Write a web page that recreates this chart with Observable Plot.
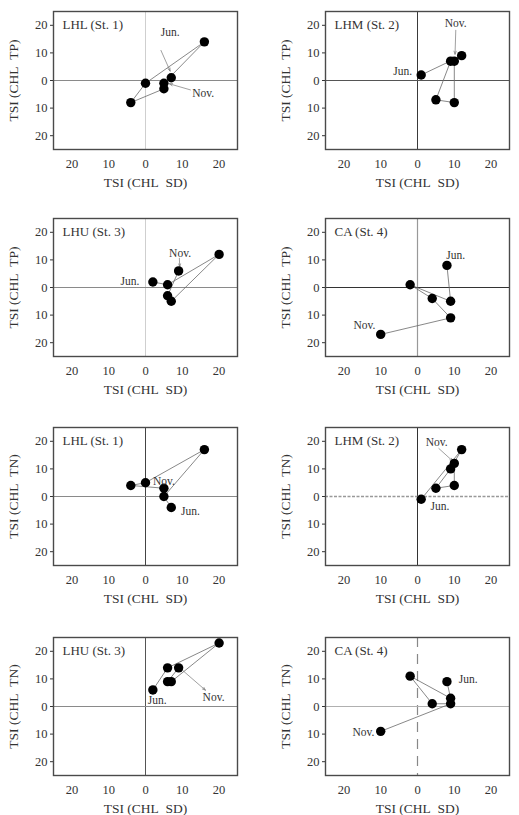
<!DOCTYPE html>
<html>
<head>
<meta charset="utf-8">
<script src="https://cdn.jsdelivr.net/npm/d3@7"></script>
<script src="https://cdn.jsdelivr.net/npm/@observablehq/plot@0.6"></script>
<style>
  html, body { margin: 0; padding: 0; background: #fff; }
  #grid { position: relative; width: 519px; height: 815px; overflow: hidden; background: #fff; }
  #grid > div { position: absolute; }
</style>
</head>
<body>
<div id="grid"></div>
<script>
// Monthly trajectories (June → November) of TSI deviations for four stations.
// x: TSI(CHL) − TSI(SD); y: TSI(CHL) − TSI(TP) or TSI(CHL) − TSI(TN).
const lhlSD = [7, 5, 16, 0, -4, 5];
const lhlTP = [1, -1, 14, -1, -8, -3];
const lhlTN = [-4, 0, 17, 5, 4, 3];

const lhmSD = [1, 12, 9, 5, 10, 10];
const lhmTP = [2, 9, 7, -7, -8, 7];
const lhmTN = [-1, 17, 10, 3, 4, 12];

const lhuSD = [2, 6, 20, 7, 6, 9];
const lhuTP = [2, 1, 12, -5, -3, 6];
const lhuTN = [6, 14, 23, 9, 9, 14];

const caSD = [8, 9, -2, 4, 9, -10];
const caTP = [8, -5, 1, -4, -11, -17];
const caTN = [9, 3, 11, 1, 1, -9];

const stations = ["LHL (St. 1)", "LHM (St. 2)", "LHU (St. 3)", "CA (St. 4)"];
const tickValues = [-20, -10, 0, 10, 20];
const startLabel = "Jun.";
const endLabel = "Nov.";
const xTitle = "TSI (CHL\u00a0\u00a0SD)";
const yTitleTP = "TSI (CHL\u00a0\u00a0TP)";
const yTitleTN = "TSI (CHL\u00a0\u00a0TN)";

const FONT = "'Liberation Serif', 'DejaVu Serif', serif";

// Panel setup: label offsets are in data units relative to the first / last point.
const panels = [
  { title: stations[0], sd: lhlSD, v: lhlTP, yTitle: yTitleTP,
    zx: { stroke: "#cfcfcf", strokeWidth: 1 }, zy: { stroke: "#8a8a8a", strokeWidth: 1 },
    start: { ox: -0.3, oy: 16.3, arrow: [-2.8, 9.9, -0.3, 2.4] },
    end: { ox: 10.7, oy: -1.6, arrow: [7.2, -0.4, 1.5, 1.8] } },
  { title: stations[1], sd: lhmSD, v: lhmTP, yTitle: yTitleTP,
    zx: { stroke: "#3a3a3a", strokeWidth: 1 }, zy: { stroke: "#555", strokeWidth: 1 },
    start: { ox: -5, oy: 1.3 },
    end: { ox: 0.4, oy: 13.8, arrow: [0.4, 11.2, 0.2, 2.5] } },
  { title: stations[2], sd: lhuSD, v: lhuTP, yTitle: yTitleTP,
    zx: { stroke: "#cfcfcf", strokeWidth: 1 }, zy: { stroke: "#8a8a8a", strokeWidth: 1 },
    start: { ox: -6.2, oy: 0.1 },
    end: { ox: 0.4, oy: 6.4, arrow: [0.2, 4.6, 0.3, 1.6] } },
  { title: stations[3], sd: caSD, v: caTP, yTitle: yTitleTP,
    zx: { stroke: "#999", strokeWidth: 1.2 }, zy: { stroke: "#333", strokeWidth: 1 },
    start: { ox: 2.4, oy: 3.5 },
    end: { ox: -4.4, oy: 3.3 } },
  { title: stations[0], sd: lhlSD, v: lhlTN, yTitle: yTitleTN,
    zx: { stroke: "#444", strokeWidth: 1 }, zy: { stroke: "#8a8a8a", strokeWidth: 1 },
    start: { ox: 5.2, oy: -1.5 },
    end: { ox: 0, oy: 2.6 } },
  { title: stations[1], sd: lhmSD, v: lhmTN, yTitle: yTitleTN,
    zx: { stroke: "#333", strokeWidth: 1 }, zy: { stroke: "#999", strokeWidth: 1.4, strokeDasharray: "3,1.5" },
    start: { ox: 5.1, oy: -2.6 },
    end: { ox: -4.8, oy: 7.8, arrow: [-4.2, 5.4, -0.4, 0.8] } },
  { title: stations[2], sd: lhuSD, v: lhuTN, yTitle: yTitleTN,
    zx: { stroke: "#555", strokeWidth: 1 }, zy: { stroke: "#8a8a8a", strokeWidth: 1 },
    start: { ox: 1.2, oy: -3.6 },
    end: { ox: 9.5, oy: -10.7, arrow: [0.9, -0.7, 7.3, -8.1] } },
  { title: stations[3], sd: caSD, v: caTN, yTitle: yTitleTN,
    zx: { stroke: "#888", strokeWidth: 1.2, strokeDasharray: "10,7" }, zy: { stroke: "#b0b0b0", strokeWidth: 1 },
    start: { ox: 5.8, oy: 0.8 },
    end: { ox: -4.7, oy: -0.4 } }
];

const rowTops = [0, 207, 416, 626];
const grid = document.getElementById("grid");

function drawPanel(p, i) {
  const col = i % 2, row = Math.floor(i / 2);
  const rows = p.sd.map((sd, k) => ({ sd, v: p.v[k], k }));
  const first = rows[0], last = rows[rows.length - 1];

  const notes = [
    { ...first, text: startLabel, o: p.start },
    { ...last, text: endLabel, o: p.end }
  ];
  const arrows = notes.filter(n => n.o.arrow);

  const plot = Plot.plot({
    width: col ? 259 : 260,
    height: 200,
    marginLeft: col ? 65 : 53,
    marginRight: col ? 10 : 23,
    marginTop: 11,
    marginBottom: 51,
    style: { fontFamily: FONT, fontSize: "12.5px", color: "#333", background: "#fff", overflow: "visible" },
    x: { domain: [-25, 25], ticks: tickValues, tickFormat: d => Math.abs(d), tickSize: 0, tickPadding: 10, label: null },
    y: { domain: [-25, 25], ticks: tickValues, tickFormat: d => Math.abs(d), tickSize: 3, tickPadding: 3, label: null },
    marks: [
      Plot.ruleX([0], p.zx),
      Plot.ruleY([0], p.zy),
      Plot.frame({ stroke: "#4a4a4a", strokeWidth: 1.4 }),
      Plot.line(rows, { x: "sd", y: "v", stroke: "#6a6a6a", strokeWidth: 0.8 }),
      Plot.arrow(arrows, {
        x1: d => d.sd + d.o.arrow[0],
        y1: d => d.v + d.o.arrow[1],
        x2: d => d.sd + d.o.arrow[2],
        y2: d => d.v + d.o.arrow[3],
        stroke: "#777", strokeWidth: 0.7, headLength: 7, headAngle: 40
      }),
      Plot.dot(rows, { x: "sd", y: "v", r: 4.7, fill: "#000" }),
      Plot.text(notes, {
        x: d => d.sd + d.o.ox, y: d => d.v + d.o.oy, text: "text",
        fontSize: 11.5, fill: "#333"
      }),
      Plot.text([p.title], { text: d => d, frameAnchor: "top-left", textAnchor: "start", lineAnchor: "top", dx: 9, dy: 8, fontSize: 13, fill: "#333" }),
      Plot.text([xTitle], { text: d => d, frameAnchor: "bottom", textAnchor: "middle", lineAnchor: "middle", dy: 33, fontSize: 13.5, fill: "#333" }),
      Plot.text([p.yTitle], { text: d => d, frameAnchor: "left", textAnchor: "middle", lineAnchor: "middle", rotate: -90, dx: -40, fontSize: 13.5, fill: "#333" })
    ]
  });

  const holder = document.createElement("div");
  holder.style.left = (col ? 260 : 0) + "px";
  holder.style.top = rowTops[row] + "px";
  holder.appendChild(plot);
  grid.appendChild(holder);
}

panels.forEach(drawPanel);
</script>
</body>
</html>
